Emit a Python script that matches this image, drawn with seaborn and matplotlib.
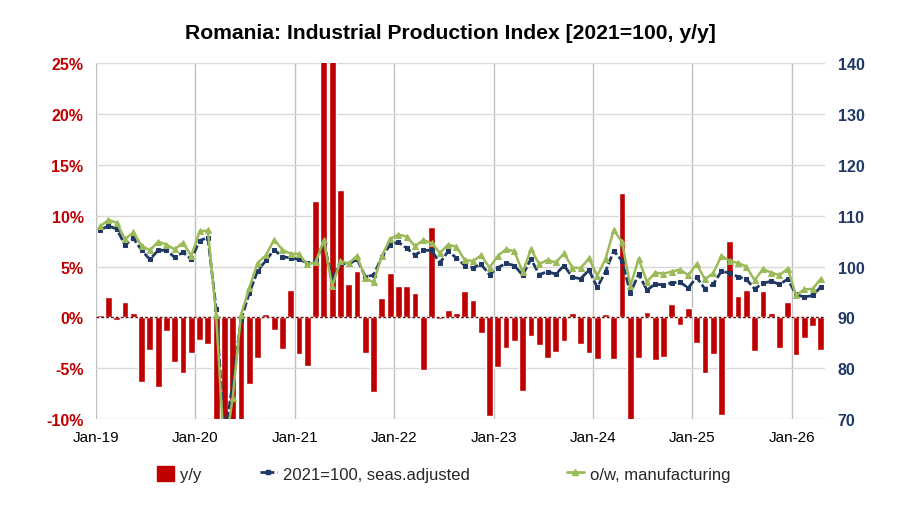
import numpy as np
import pandas as pd
import matplotlib
matplotlib.use("Agg")
import matplotlib.pyplot as plt
import seaborn as sns
from matplotlib.patches import Patch
from matplotlib.lines import Line2D

# ---------------- data ----------------
tick_labels = ["Jan-19", "Jan-20", "Jan-21", "Jan-22", "Jan-23", "Jan-24", "Jan-25", "Jan-26"]

yoy = [
    0.2, 2.0, -0.3, 1.5, 0.4, -6.4, -3.2, -6.9, -1.3, -4.4, -5.5, -3.5,      # 2019
    -2.2, -2.6, -12.0, -38.0, -28.0, -10.5, -6.6, -4.0, 0.3, -1.2, -3.1, 2.7,  # 2020
    -3.6, -4.8, 11.4, 60.0, 45.0, 12.5, 3.3, 4.6, -3.5, -7.3, 1.9, 4.4,     # 2021
    3.1, 3.1, 2.4, -5.2, 8.9, -0.2, 0.7, 0.4, 2.6, 1.7, -1.5, -9.7,         # 2022
    -4.9, -3.0, -2.3, -7.2, -1.8, -2.7, -4.0, -3.4, -2.3, 0.4, -2.6, -3.5,  # 2023
    -4.1, 0.3, -4.1, 12.2, -10.2, -4.0, 0.5, -4.2, -3.9, 1.3, -0.8, 0.9,    # 2024
    -2.5, -5.5, -3.6, -9.6, 7.5, 2.1, 2.7, -3.3, 2.6, 0.4, -3.0, 1.5,       # 2025
    -3.7, -2.0, -0.9, -3.2,                                                 # 2026
]

index_sa = [
    107.2, 108.0, 107.4, 104.2, 105.6, 103.2, 101.4, 103.2, 103.2, 101.8, 102.8, 101.4,
    105.1, 105.7, 91.7, 66.0, 77.1, 89.5, 94.8, 99.1, 101.2, 103.3, 101.9, 101.7,
    101.4, 100.7, 101.0, 104.8, 97.4, 100.7, 100.4, 101.5, 98.0, 98.3, 101.9, 104.3,
    104.8, 103.6, 102.3, 103.2, 103.2, 100.7, 103.0, 101.7, 100.2, 99.8, 100.4, 98.4,
    99.8, 100.6, 100.2, 98.3, 101.5, 98.4, 99.0, 98.5, 100.2, 97.9, 97.6, 99.3,
    95.9, 99.0, 103.1, 101.1, 94.8, 98.5, 95.4, 96.5, 96.4, 96.8, 96.9, 95.8,
    97.9, 95.6, 96.5, 99.1, 98.7, 98.0, 97.5, 95.6, 96.7, 97.1, 96.5, 97.5,
    94.5, 94.0, 94.3, 96.0,
]

manufacturing = [
    107.9, 109.2, 108.6, 105.4, 106.7, 104.1, 103.2, 104.9, 104.3, 103.4, 104.7, 102.1,
    106.9, 107.1, 90.4, 63.0, 74.2, 90.5, 95.8, 100.7, 102.2, 105.3, 103.3, 102.5,
    102.5, 100.4, 100.8, 105.2, 96.1, 101.1, 100.6, 102.1, 97.7, 96.9, 102.1, 105.4,
    106.3, 105.9, 104.0, 105.2, 104.6, 102.7, 104.3, 103.9, 101.3, 101.1, 102.2, 99.8,
    102.1, 103.4, 103.0, 98.9, 103.4, 100.5, 101.3, 100.8, 102.6, 99.8, 99.7, 101.6,
    98.2, 101.5, 107.2, 104.8, 96.2, 101.5, 97.0, 98.8, 98.6, 99.0, 99.4, 98.3,
    100.5, 97.5, 98.7, 102.1, 101.1, 100.7, 100.0, 97.3, 99.5, 98.8, 98.3, 99.6,
    94.3, 95.5, 95.6, 97.6,
]

month = list(range(len(yoy)))
df = pd.DataFrame({"month": month, "yoy": yoy, "sa": index_sa, "mfg": manufacturing})

# ---------------- style ----------------
sns.set_theme(style="white")
plt.rcParams["font.family"] = ["Liberation Sans", "DejaVu Sans"]

RED = "#C00000"
NAVY = "#1F3864"
GREEN = "#9BBB59"

fig = plt.figure(figsize=(9, 5.1), dpi=100)
ax = fig.add_axes([0.1067, 0.1765, 0.8100, 0.6975])

sns.barplot(data=df, x="month", y="yoy", native_scale=True, width=0.82,
            color=RED, saturation=1, errorbar=None, ax=ax, zorder=2)

ax.set_ylim(-10, 25)
ax.set_xlim(-0.5, len(yoy) - 0.5)
ax.set_yticks(np.arange(-10, 26, 5))
ax.set_yticklabels([f"{v}%" for v in range(-10, 26, 5)])
ax.set_xticks([12 * k - 0.5 for k in range(len(tick_labels))])
ax.set_xticklabels(tick_labels)
ax.set_xlabel("")
ax.set_ylabel("")
ax.grid(True, axis="y", color="#D9D9D9", lw=1.0)
ax.grid(True, axis="x", color="#BFBFBF", lw=1.0)
ax.set_axisbelow(True)
for s in ax.spines.values():
    s.set_visible(False)
ax.axhline(0, color="#6B1010", lw=1.0, ls=(0, (2, 1.5)), zorder=3)
ax.tick_params(axis="y", length=0, pad=9, labelsize=11.5, labelcolor=RED)
ax.tick_params(axis="x", length=0, pad=8, labelsize=11, labelcolor="black")
for t in ax.get_yticklabels():
    t.set_fontweight("bold")

ax2 = ax.twinx()
sns.lineplot(data=df, x="month", y="sa", ax=ax2, color=NAVY, lw=2.0,
             ls=(0, (3, 1)), marker="s", markersize=3.5, markeredgecolor=NAVY,
             markerfacecolor=NAVY, zorder=4)
sns.lineplot(data=df, x="month", y="mfg", ax=ax2, color=GREEN, lw=1.8,
             marker="^", markersize=4.5, markeredgecolor=GREEN,
             markerfacecolor=GREEN, zorder=5)
ax2.set_ylim(70, 140)
ax2.set_yticks(np.arange(70, 141, 10))
ax2.set_xlim(-0.5, len(yoy) - 0.5)
ax2.set_xlabel("")
ax2.set_ylabel("")
ax2.grid(False)
for s in ax2.spines.values():
    s.set_visible(False)
ax2.tick_params(axis="y", length=0, pad=9, labelsize=11.5, labelcolor=NAVY)
for t in ax2.get_yticklabels():
    t.set_fontweight("bold")

fig.text(0.5, 0.935, "Romania: Industrial Production Index [2021=100, y/y]",
         ha="center", va="center", fontsize=15.2, fontweight="bold", color="black")

handles = [
    Patch(facecolor=RED, edgecolor=RED),
    Line2D([0], [0], color=NAVY, lw=2.0, ls=(0, (2, 1)), marker="s", markersize=3),
    Line2D([0], [0], color=GREEN, lw=2.0, marker="^", markersize=4),
]
labels = ["y/y", "2021=100, seas.adjusted", "o/w, manufacturing"]
x_starts = [157 / 900, 260 / 900, 567 / 900]
for h, lab, xs in zip(handles, labels, x_starts):
    fig.legend([h], [lab], loc="center left", bbox_to_anchor=(xs, 0.069),
               frameon=False, fontsize=12, handlelength=1.0, handleheight=1.0,
               handletextpad=0.4, borderpad=0.0, borderaxespad=0.0)

fig.savefig("out.png", dpi=100)
